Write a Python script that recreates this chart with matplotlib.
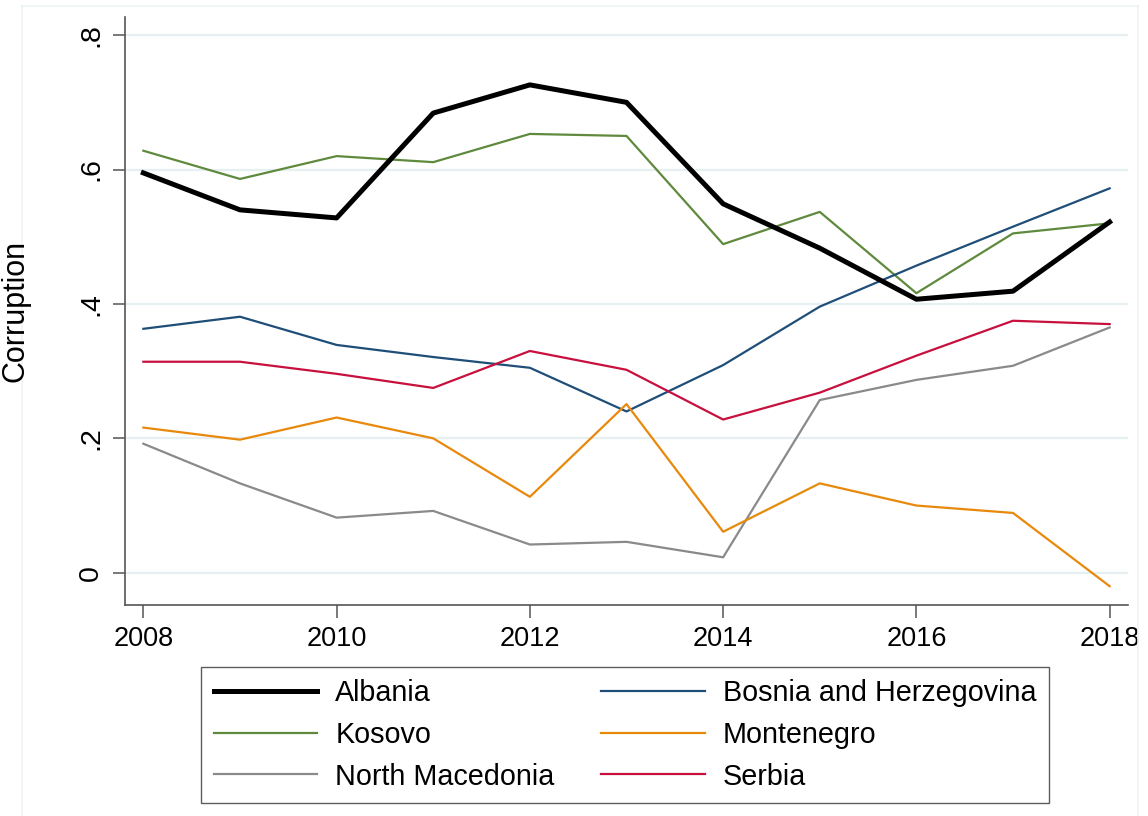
import matplotlib
matplotlib.use('Agg')
from matplotlib import pyplot as plt
from matplotlib.lines import Line2D

# --- data ---

years = [2008, 2009, 2010, 2011, 2012, 2013, 2014, 2015, 2016, 2017, 2018]

albania = [0.595, 0.540, 0.528, 0.684, 0.726, 0.700, 0.549, 0.483, 0.407, 0.419, 0.522]
kosovo = [0.628, 0.586, 0.620, 0.611, 0.653, 0.650, 0.489, 0.537, 0.416, 0.505, 0.520]
north_macedonia = [0.192, 0.133, 0.082, 0.092, 0.042, 0.046, 0.023, 0.257, 0.287, 0.308, 0.365]
bosnia = [0.363, 0.381, 0.339, 0.321, 0.305, 0.240, 0.309, 0.396, 0.457, 0.515, 0.572]
montenegro = [0.216, 0.198, 0.231, 0.200, 0.113, 0.251, 0.061, 0.133, 0.100, 0.089, -0.020]
serbia = [0.314, 0.314, 0.296, 0.275, 0.330, 0.302, 0.228, 0.268, 0.323, 0.375, 0.370]

y_ticks = [0, 0.2, 0.4, 0.6, 0.8]
y_tick_labels = ['0', '.2', '.4', '.6', '.8']
x_ticks = [2008, 2010, 2012, 2014, 2016, 2018]

# --- plot ---

plt.rcParams['font.family'] = ['Liberation Sans', 'DejaVu Sans']

W, H = 1148, 816
fig = plt.figure(figsize=(W / 100, H / 100), dpi=100)

# faint outer plot-region border (Stata style)
border = '#eef3f4'
fig.add_artist(Line2D([22 / W, 22 / W], [0, 1 - 6 / H], color=border, lw=1.2))
fig.add_artist(Line2D([1138 / W, 1138 / W], [0, 1 - 6 / H], color=border, lw=1.2))
fig.add_artist(Line2D([22 / W, 1138 / W], [1 - 6 / H, 1 - 6 / H], color=border, lw=1.2))

ax = fig.add_axes([125 / W, 1 - 605 / H, 1003 / W, 588 / H])

ax.plot(years, albania, color='black', lw=3.6, label='Albania', zorder=5)
ax.plot(years, kosovo, color='#5f8a3e', lw=1.6, label='Kosovo')
ax.plot(years, north_macedonia, color='#8a8a8a', lw=1.6, label='North Macedonia')
ax.plot(years, bosnia, color='#1f4e79', lw=1.6, label='Bosnia and Herzegovina')
ax.plot(years, montenegro, color='#e8890c', lw=1.6, label='Montenegro')
ax.plot(years, serbia, color='#c8103e', lw=1.6, label='Serbia')

ax.set_xlim(2007.81, 2018.19)
ax.set_ylim(-0.048, 0.827)

ax.set_yticks(y_ticks)
ax.set_yticklabels(y_tick_labels, rotation=90, va='center')
ax.set_xticks(x_ticks)

ax.grid(axis='y', color='#e6eff1', lw=1.6)
ax.set_axisbelow(True)

for side in ['top', 'right']:
    ax.spines[side].set_visible(False)
for side in ['left', 'bottom']:
    ax.spines[side].set_color('#555555')
    ax.spines[side].set_linewidth(1.2)

ax.tick_params(axis='both', length=9, width=1.1, color='#555555', pad=6)
ax.tick_params(axis='x', labelsize=19.5)
ax.tick_params(axis='y', labelsize=20.5)

fig.text(31 / W, 1 - 311 / H, 'Corruption', rotation=90, ha='right', va='center', fontsize=22)

leg = fig.legend(loc='center', bbox_to_anchor=(625 / W, 1 - 735 / H), ncol=2, fontsize=20.7,
                 frameon=True, fancybox=False, edgecolor='#333333', handlelength=3.6,
                 columnspacing=1.63, labelspacing=0.47, handletextpad=0.63, borderpad=0.45)
leg.get_frame().set_linewidth(1.0)

plt.savefig('out.png', dpi=100)
plt.close(fig)
